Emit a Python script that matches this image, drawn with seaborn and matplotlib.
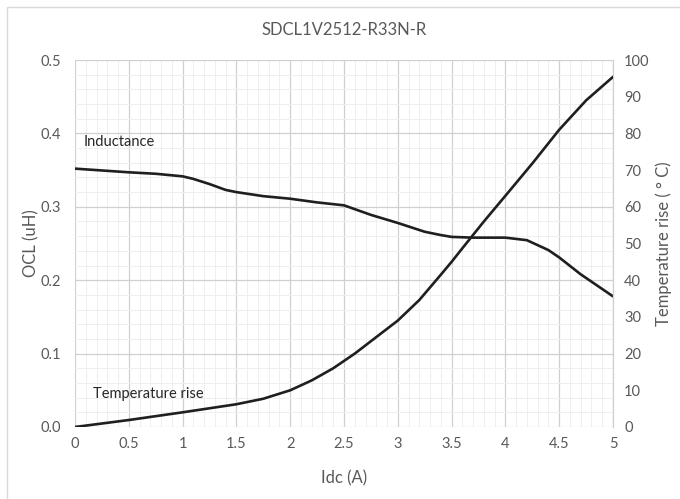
import matplotlib
matplotlib.use("Agg")
import matplotlib.pyplot as plt
import seaborn as sns
import pandas as pd
from matplotlib.patches import Rectangle
from matplotlib.ticker import MultipleLocator

sns.set_theme(style="white")
plt.rcParams['font.family'] = ['Lato', 'DejaVu Sans']

# Data
idc_l = [0, 0.5, 0.75, 1.0, 1.1, 1.25, 1.4, 1.5, 1.75, 2.0, 2.25, 2.5, 2.75, 3.0, 3.25, 3.4,
         3.5, 3.7, 4.0, 4.2, 4.4, 4.5, 4.7, 5.0]
inductance = [0.352, 0.347, 0.345, 0.3415, 0.338, 0.331, 0.323, 0.320, 0.3145, 0.311, 0.306,
              0.302, 0.289, 0.278, 0.266, 0.2615, 0.259, 0.258, 0.258, 0.2545, 0.241, 0.231,
              0.208, 0.178]

idc_t = [0, 0.5, 1.0, 1.5, 1.75, 2.0, 2.2, 2.4, 2.6, 2.8, 3.0, 3.2, 3.4, 3.5, 3.6, 3.8, 4.0,
         4.25, 4.5, 4.75, 5.0]
temp_rise = [0, 1.9, 4.0, 6.2, 7.7, 10.0, 12.7, 16.0, 20.0, 24.5, 29.0, 34.6, 41.5, 45.0,
             48.7, 56.0, 63.0, 71.8, 81.0, 89.0, 95.4]

x_ticks = [0, 0.5, 1, 1.5, 2, 2.5, 3, 3.5, 4, 4.5, 5]
x_ticklabels = ["0", "0.5", "1", "1.5", "2", "2.5", "3", "3.5", "4", "4.5", "5"]
yl_ticks = [0.0, 0.1, 0.2, 0.3, 0.4, 0.5]
yr_ticks = [0, 10, 20, 30, 40, 50, 60, 70, 80, 90, 100]

df_l = pd.DataFrame({"Idc": idc_l, "OCL": inductance})
df_t = pd.DataFrame({"Idc": idc_t, "Temp": temp_rise})

fig = plt.figure(figsize=(6.8, 4.99), dpi=100)
fig.patches.append(Rectangle((7/680, -0.1), 1.2, 1 - 7/499 + 0.1, transform=fig.transFigure,
                             fill=False, edgecolor="#d9d9d9", linewidth=1.0))
ax = fig.add_axes([75/680, 1 - 427/499, (613 - 75)/680, (427 - 60)/499])
ax2 = ax.twinx()

txt = "#595959"
line_c = "#1f1f1f"

sns.lineplot(data=df_l, x="Idc", y="OCL", ax=ax, color=line_c, linewidth=1.9,
             solid_joinstyle="round", solid_capstyle="round")
sns.lineplot(data=df_t, x="Idc", y="Temp", ax=ax2, color=line_c, linewidth=1.9,
             solid_joinstyle="round", solid_capstyle="round")

ax.set_xlim(0, 5)
ax.set_ylim(0, 0.5)
ax2.set_ylim(0, 100)

ax.set_xticks(x_ticks)
ax.set_xticklabels(x_ticklabels)
ax.set_yticks(yl_ticks)
ax.set_yticklabels([f"{v:.1f}" for v in yl_ticks])
ax2.set_yticks(yr_ticks)
ax2.set_yticklabels([str(v) for v in yr_ticks])

ax.xaxis.set_minor_locator(MultipleLocator(0.1))
ax.yaxis.set_minor_locator(MultipleLocator(0.02))
ax.grid(which="major", color="#d0d0d0", linewidth=0.9)
ax.grid(which="minor", color="#efefef", linewidth=0.7)
ax.set_axisbelow(True)
ax.tick_params(which="both", length=0)
ax2.tick_params(which="both", length=0)
ax.tick_params(axis="x", labelsize=10.5, labelcolor=txt, pad=7)
ax.tick_params(axis="y", labelsize=10.5, labelcolor=txt, pad=10)
ax2.tick_params(axis="y", labelsize=10.5, labelcolor=txt, pad=8)

for a in (ax, ax2):
    for s in a.spines.values():
        s.set_visible(False)
ax.spines["right"].set_visible(True)
ax.spines["right"].set_color("#d0d0d0")
ax.spines["right"].set_linewidth(0.9)

ax.set_xlabel("Idc (A)", fontsize=12, color=txt, labelpad=14)
ax.set_ylabel("OCL (uH)", fontsize=12, color=txt, labelpad=1)
ax2.set_ylabel("Temperature rise ( ° C)", fontsize=12, color=txt, labelpad=4)
ax.set_title("SDCL1V2512-R33N-R", fontsize=12, color=txt, pad=18)

ax.text(0.08, 0.388, "Inductance", fontsize=10.5, color="#262626", va="center", ha="left")
ax.text(0.17, 0.045, "Temperature rise", fontsize=10.5, color="#262626", va="center", ha="left")

fig.savefig("out.png", dpi=100)
